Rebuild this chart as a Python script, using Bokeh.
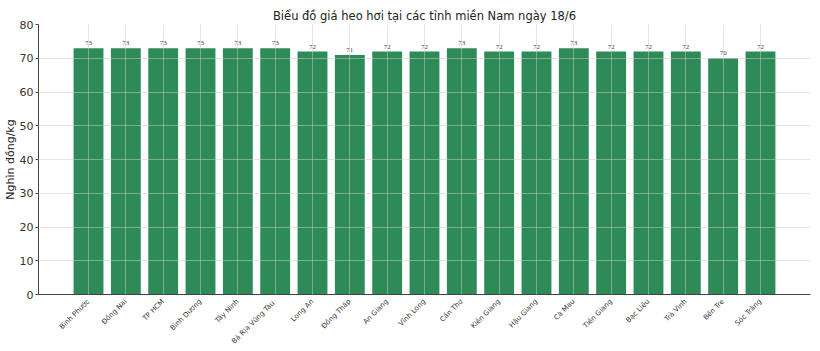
from bokeh.plotting import figure
from bokeh.models import ColumnDataSource, FixedTicker, Range1d, LabelSet
from bokeh.embed import file_html
from bokeh.resources import INLINE
from math import pi

provinces = ["Bình Phước", "Đồng Nai", "TP HCM", "Bình Dương", "Tây Ninh", "Bà Rịa  Vũng Tàu",
             "Long An", "Đồng Tháp", "An Giang", "Vĩnh Long", "Cần Thơ", "Kiên Giang",
             "Hậu Giang", "Cà Mau", "Tiền Giang", "Bạc Liêu", "Trà Vinh", "Bến Tre", "Sóc Trăng"]
prices = [73, 73, 73, 73, 73, 73, 72, 71, 72, 72, 73, 72, 72, 73, 72, 72, 72, 70, 72]
y_ticks = [0, 10, 20, 30, 40, 50, 60, 70, 80]

xs = list(range(len(provinces)))
src = ColumnDataSource(dict(x=xs, y=prices, lbl=[str(v) for v in prices]))

FONT = "DejaVu Sans"
p = figure(width=820, height=351, output_backend="svg", toolbar_location=None,
           x_range=Range1d(-1.34, len(provinces) - 1 + 1.34), y_range=Range1d(0, 80),
           min_border_left=36, min_border_right=10, min_border_top=24, min_border_bottom=50)
p.title.text = "Biểu đồ giá heo hơi tại các tỉnh miền Nam ngày 18/6"
p.title.align = "center"
p.title.text_font = FONT
p.title.text_font_size = "11.5px"
p.title.text_font_style = "normal"
p.title.text_color = "#222222"
p.title.standoff = 4
p.outline_line_color = None

p.vbar(x="x", top="y", width=0.8, source=src, fill_color="#2e8b57", line_color=None)

labels = LabelSet(x="x", y="y", text="lbl", source=src, y_offset=3, text_align="center",
                  text_baseline="bottom", text_font_size="7px", text_color="#444444",
                  text_font=FONT)
p.add_layout(labels)

p.xaxis.ticker = FixedTicker(ticks=xs)
p.xaxis.major_label_overrides = {i: n for i, n in enumerate(provinces)}
p.xaxis.major_label_orientation = pi / 4
p.xaxis.major_label_text_font_size = "7px"
p.xaxis.major_label_text_font = FONT
p.xaxis.major_label_text_color = "#333333"
p.xaxis.axis_line_color = "#444444"
p.xaxis.major_tick_line_color = None
p.xaxis.minor_tick_line_color = None
p.xaxis.major_label_standoff = 0

p.yaxis.ticker = FixedTicker(ticks=y_ticks)
p.yaxis.axis_label = "Nghìn đồng/kg"
p.yaxis.axis_label_text_font = FONT
p.yaxis.axis_label_text_font_size = "11px"
p.yaxis.axis_label_text_font_style = "normal"
p.yaxis.axis_label_text_color = "#222222"
p.yaxis.axis_label_standoff = 0
p.yaxis.major_label_standoff = 2
p.yaxis.major_label_text_font = FONT
p.yaxis.major_label_text_font_size = "11px"
p.yaxis.major_label_text_color = "#333333"
p.yaxis.axis_line_color = "#444444"
p.yaxis.major_tick_line_color = "#444444"
p.yaxis.major_tick_out = 3
p.yaxis.major_tick_in = 0
p.yaxis.minor_tick_line_color = None

for g in (p.xgrid, p.ygrid):
    g.grid_line_color = "#cccccc"
    g.grid_line_alpha = 0.5
    g.level = "overlay"

open("out.html", "w").write(file_html(p, INLINE))
